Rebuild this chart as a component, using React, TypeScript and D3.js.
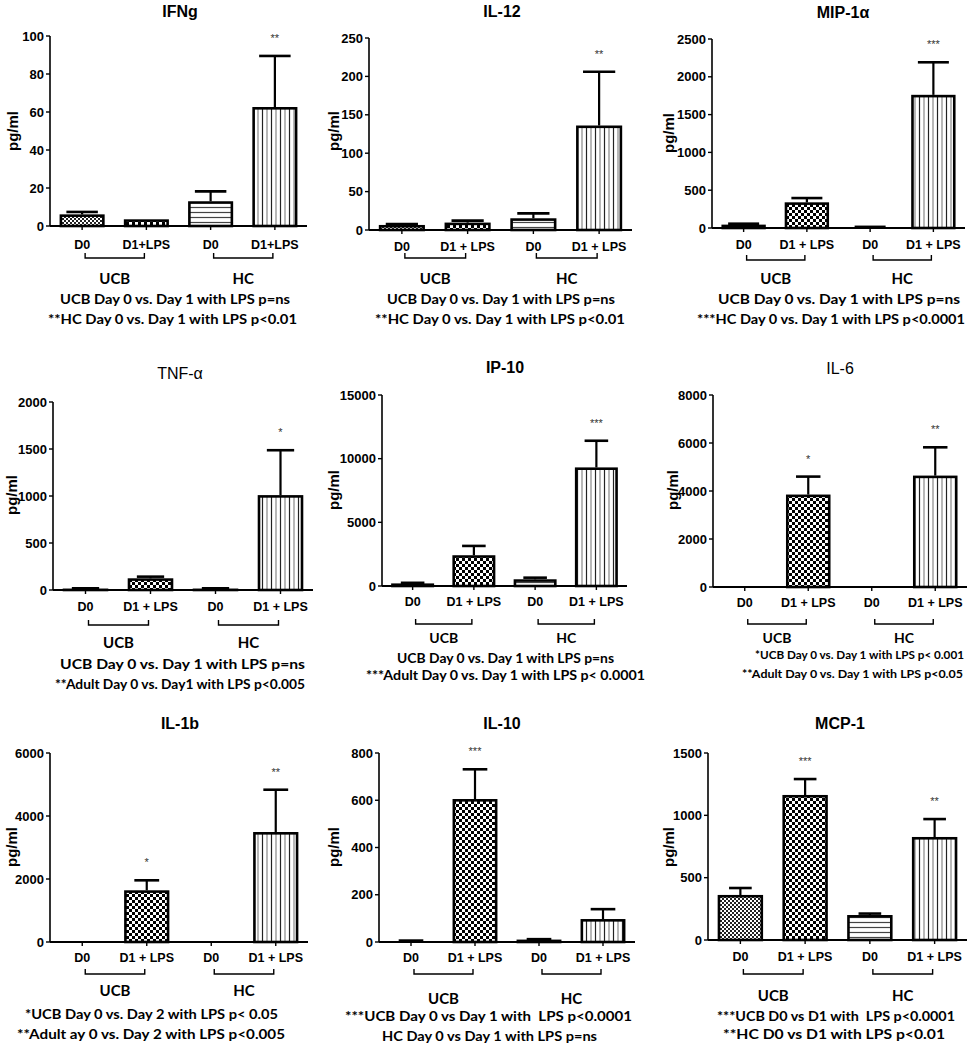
import React from "react";
import * as d3 from "d3";

const GROUPS = ["UCB", "HC"];
const TICKS_COMPACT = ["D0", "D1+LPS", "D0", "D1+LPS"];
const TICKS_SPACED = ["D0", "D1 + LPS", "D0", "D1 + LPS"];

const TITLES = ["IFNg", "IL-12", "MIP-1α", "TNF-α", "IP-10", "IL-6", "IL-1b", "IL-10", "MCP-1"];
const TITLE_BOLD = [true, true, true, false, true, false, true, true, true];
const Y_MAX = [100, 250, 2500, 2000, 15000, 8000, 6000, 800, 1500];
const Y_STEP = [20, 50, 500, 500, 5000, 2000, 2000, 200, 500];

const IFNG_MEAN = [6.1, 3.5, 13, 62.6];
const IFNG_ERR = [1.3, 0, 5.2, 26.9];
const IL12_MEAN = [6.5, 9.6, 15.2, 136];
const IL12_ERR = [1.3, 2.6, 6.5, 70];
const MIP1A_MEAN = [44, 339, 13, 1761];
const MIP1A_ERR = [13, 57, 2, 431];
const TNFA_MEAN = [15, 124, 15, 1009];
const TNFA_ERR = [3, 18, 3, 478];
const IP10_MEAN = [200, 2412, 524, 9310];
const IP10_ERR = [50, 735, 130, 2097];
const IL6_MEAN = [0, 3850, 0, 4640];
const IL6_ERR = [0, 750, 0, 1180];
const IL1B_MEAN = [0, 1640, 0, 3490];
const IL1B_ERR = [0, 318, 0, 1344];
const IL10_MEAN = [5, 605, 10, 97];
const IL10_ERR = [1, 126, 2, 42];
const MCP1_MEAN = [361, 1163, 200, 826];
const MCP1_ERR = [56, 128, 12, 144];

const MEANS = [IFNG_MEAN, IL12_MEAN, MIP1A_MEAN, TNFA_MEAN, IP10_MEAN, IL6_MEAN, IL1B_MEAN, IL10_MEAN, MCP1_MEAN];
const ERRS = [IFNG_ERR, IL12_ERR, MIP1A_ERR, TNFA_ERR, IP10_ERR, IL6_ERR, IL1B_ERR, IL10_ERR, MCP1_ERR];

const STARS = [
  ["", "", "", "**"],
  ["", "", "", "**"],
  ["", "", "", "***"],
  ["", "", "", "*"],
  ["", "", "", "***"],
  ["", "*", "", "**"],
  ["", "*", "", "**"],
  ["", "***", "", ""],
  ["", "***", "", "**"],
];

const FOOTNOTES = [
  ["UCB Day 0 vs. Day 1 with LPS p=ns", "**HC Day 0 vs. Day 1 with LPS p<0.01"],
  ["UCB Day 0 vs. Day 1 with LPS p=ns", "**HC Day 0 vs. Day 1 with LPS p<0.01"],
  ["UCB Day 0 vs. Day 1 with LPS p=ns", "***HC Day 0 vs. Day 1 with LPS p<0.0001"],
  ["UCB Day 0 vs. Day 1 with LPS p=ns", "**Adult Day 0 vs. Day1 with LPS p<0.005"],
  ["UCB Day 0 vs. Day 1 with LPS p=ns", "***Adult Day 0 vs. Day 1 with LPS p< 0.0001"],
  ["*UCB Day 0 vs. Day 1 with LPS p< 0.001", "**Adult Day 0 vs. Day 1 with LPS p<0.05"],
  ["*UCB Day 0 vs. Day 2 with LPS p< 0.05", "**Adult ay 0 vs. Day 2 with LPS p<0.005"],
  ["***UCB Day 0 vs Day 1 with  LPS p<0.0001", "HC Day 0 vs Day 1 with LPS p=ns"],
  ["***UCB D0 vs D1 with  LPS p<0.0001", "**HC D0 vs D1 with LPS p<0.01"],
];

const FILLS = ["url(#patFine)", "url(#patCheck)", "url(#patH)", "url(#patV)"];

// layout (pixel geometry of each panel); footnote left edges l1/l2 and widths w1/w2
const LAYOUT = [
  { x0: 50, x1: 307, yTop: 36, y0: 226, tX: 180, tY: 11, lX: 12, lY: 131, tickY: 245, brY: 258, gY: 278, l1: 60, l2: 48, f1: 298, f2: 318, w1: 230, w2: 249, fs: 14, cap: 0.7, ticks: TICKS_COMPACT },
  { x0: 369, x1: 632, yTop: 38, y0: 230, tX: 502, tY: 11, lX: 333, lY: 131, tickY: 247, brY: 258, gY: 278, l1: 387, l2: 375, f1: 298, f2: 318, w1: 228, w2: 250, fs: 14, cap: 0.7, ticks: TICKS_SPACED },
  { x0: 712, x1: 965, yTop: 39, y0: 228, tX: 843, tY: 12, lX: 668, lY: 133, tickY: 245, brY: 260, gY: 278, l1: 718, l2: 697, f1: 298, f2: 318, w1: 242, w2: 268, fs: 14, cap: 0.7, ticks: TICKS_SPACED },
  { x0: 53, x1: 313, yTop: 402, y0: 590, tX: 180, tY: 373, lX: 11, lY: 495, tickY: 607, brY: 625, gY: 642, l1: 60, l2: 55, f1: 663, f2: 683, w1: 245, w2: 250, fs: 14, cap: 0.6, ticks: TICKS_SPACED },
  { x0: 382, x1: 627, yTop: 395, y0: 586, tX: 505, tY: 367, lX: 333, lY: 490, tickY: 602, brY: 624, gY: 637, l1: 397, l2: 366, f1: 658, f2: 675, w1: 217, w2: 279, fs: 13, cap: 0.55, ticks: TICKS_SPACED },
  { x0: 713, x1: 967, yTop: 395, y0: 587, tX: 840, tY: 368, lX: 672, lY: 490, tickY: 603, brY: 624, gY: 637, l1: 755, l2: 742, f1: 654, f2: 673, w1: 209, w2: 221, fs: 11.5, cap: 0.55, ticks: TICKS_SPACED },
  { x0: 50, x1: 308, yTop: 753, y0: 942, tX: 180, tY: 723, lX: 11, lY: 847, tickY: 958, brY: 974, gY: 990, l1: 25, l2: 17, f1: 1013, f2: 1033, w1: 253, w2: 268, fs: 14, cap: 0.55, ticks: TICKS_SPACED },
  { x0: 379, x1: 635, yTop: 753, y0: 942, tX: 502, tY: 723, lX: 333, lY: 847, tickY: 958, brY: 974, gY: 998, l1: 345, l2: 382, f1: 1015, f2: 1035, w1: 287, w2: 215, fs: 14, cap: 0.55, ticks: TICKS_SPACED },
  { x0: 708, x1: 967, yTop: 753, y0: 940, tX: 840, tY: 723, lX: 668, lY: 847, tickY: 957, brY: 974, gY: 995, l1: 717, l2: 723, f1: 1015, f2: 1033, w1: 238, w2: 222, fs: 14, cap: 0.5, ticks: TICKS_SPACED },
];

const ARIAL = "'Liberation Sans', Arial, sans-serif";
const CALIBRI = "Lato, 'Open Sans', sans-serif";

function Panel({ i }: { i: number }) {
  const L = LAYOUT[i];
  const means = MEANS[i];
  const errs = ERRS[i];
  const y = d3.scaleLinear().domain([0, Y_MAX[i]]).range([L.y0, L.yTop]);
  const x = d3.scaleBand<number>().domain([0, 1, 2, 3]).range([L.x0, L.x1]).paddingInner(0.3).paddingOuter(0.15);
  const bw = x.bandwidth();
  const ticks = d3.range(0, Y_MAX[i] + Y_STEP[i] / 2, Y_STEP[i]);
  const cx = (k: number) => (x(k) as number) + bw / 2;
  return (
    <g>
      <text x={L.tX} y={L.tY} textAnchor="middle" dominantBaseline="central" fontFamily={ARIAL} fontWeight={TITLE_BOLD[i] ? "bold" : "normal"} fontSize={16}>{TITLES[i]}</text>
      <text transform={`translate(${L.lX},${L.lY}) rotate(-90)`} textAnchor="middle" dominantBaseline="central" fontFamily={ARIAL} fontWeight="bold" fontSize={15}>pg/ml</text>
      {means.map((m, k) => {
        if (m <= 0) return null;
        const top = y(m);
        const et = y(m + errs[k]);
        const capW = bw * L.cap;
        return (
          <g key={k}>
            {errs[k] > 0 && (
              <g stroke="#000">
                <line x1={cx(k)} x2={cx(k)} y1={top} y2={et} strokeWidth={2.2} />
                <line x1={cx(k) - capW / 2} x2={cx(k) + capW / 2} y1={et} y2={et} strokeWidth={2.6} />
              </g>
            )}
            <rect x={(x(k) as number) + 1.25} y={top + 1.25} width={bw - 2.5} height={Math.max(0, L.y0 - top - 1.25)} fill={FILLS[k]} stroke="#000" strokeWidth={2.6} />
          </g>
        );
      })}
      {STARS[i].map((s, k) =>
        s ? (
          <text key={k} x={cx(k)} y={y(means[k] + errs[k]) - 18} textAnchor="middle" dominantBaseline="central" fontFamily={ARIAL} fontSize={11} fill="#333">{s}</text>
        ) : null
      )}
      <line x1={L.x0} x2={L.x0} y1={L.yTop} y2={L.y0} stroke="#000" strokeWidth={1.6} />
      {ticks.map((t) => (
        <g key={t}>
          <line x1={L.x0 - 4} x2={L.x0} y1={y(t)} y2={y(t)} stroke="#000" strokeWidth={1.4} />
          <text x={L.x0 - 6} y={y(t)} textAnchor="end" dominantBaseline="central" fontFamily={ARIAL} fontWeight="bold" fontSize={13}>{t}</text>
        </g>
      ))}
      <line x1={L.x0} x2={L.x1} y1={L.y0} y2={L.y0} stroke="#000" strokeWidth={2} />
      {[0, 1, 2, 3].map((k) => (
        <g key={k}>
          <line x1={cx(k)} x2={cx(k)} y1={L.y0} y2={L.y0 + 4} stroke="#000" strokeWidth={1.4} />
          <text x={cx(k)} y={L.tickY} textAnchor="middle" dominantBaseline="central" fontFamily={ARIAL} fontWeight="bold" fontSize={12.5}>{L.ticks[k]}</text>
        </g>
      ))}
      {GROUPS.map((g, gi) => {
        const a = cx(gi * 2) + 3;
        const b = cx(gi * 2 + 1) - 2;
        return (
          <g key={g}>
            <path d={`M${a},${L.brY - 5}V${L.brY}H${b}V${L.brY - 5}`} fill="none" stroke="#000" strokeWidth={1.4} />
            <text x={(a + b) / 2} y={L.gY} textAnchor="middle" dominantBaseline="central" fontFamily={CALIBRI} fontWeight="bold" fontSize={i === 5 || i === 4 ? 14 : 15}>{g}</text>
          </g>
        );
      })}
      <text x={L.l1} y={L.f1} textAnchor="start" dominantBaseline="central" fontFamily={CALIBRI} fontWeight="bold" fontSize={L.fs} textLength={L.w1} lengthAdjust="spacingAndGlyphs" style={{ whiteSpace: "pre" }}>{FOOTNOTES[i][0]}</text>
      <text x={L.l2} y={L.f2} textAnchor="start" dominantBaseline="central" fontFamily={CALIBRI} fontWeight="bold" fontSize={L.fs} textLength={L.w2} lengthAdjust="spacingAndGlyphs" style={{ whiteSpace: "pre" }}>{FOOTNOTES[i][1]}</text>
    </g>
  );
}

export default function App() {
  return (
    <svg width={968} height={1050} style={{ position: "absolute", left: 0, top: 0, background: "#fff" }} xmlns="http://www.w3.org/2000/svg">
      <defs>
        <pattern id="patFine" patternUnits="userSpaceOnUse" width={4} height={4}>
          <rect width={4} height={4} fill="#fff" />
          <rect x={0} y={0} width={2} height={2} fill="#222" />
          <rect x={2} y={2} width={2} height={2} fill="#222" />
        </pattern>
        <pattern id="patCheck" patternUnits="userSpaceOnUse" width={6} height={6}>
          <rect width={6} height={6} fill="#fff" />
          <rect x={0} y={0} width={3} height={3} fill="#000" />
          <rect x={3} y={3} width={3} height={3} fill="#000" />
        </pattern>
        <pattern id="patH" patternUnits="userSpaceOnUse" width={6} height={5}>
          <rect width={6} height={5} fill="#fff" />
          <line x1={0} x2={6} y1={2.5} y2={2.5} stroke="#444" strokeWidth={1.2} />
        </pattern>
        <pattern id="patV" patternUnits="userSpaceOnUse" width={9} height={6}>
          <rect width={9} height={6} fill="#fff" />
          <line x1={1.5} x2={1.5} y1={0} y2={6} stroke="#222" strokeWidth={1.2} />
          <line x1={6} x2={6} y1={0} y2={6} stroke="#888" strokeWidth={1.2} />
        </pattern>
      </defs>
      <rect width={968} height={1050} fill="#fff" />
      {LAYOUT.map((_, i) => (
        <Panel key={i} i={i} />
      ))}
    </svg>
  );
}
